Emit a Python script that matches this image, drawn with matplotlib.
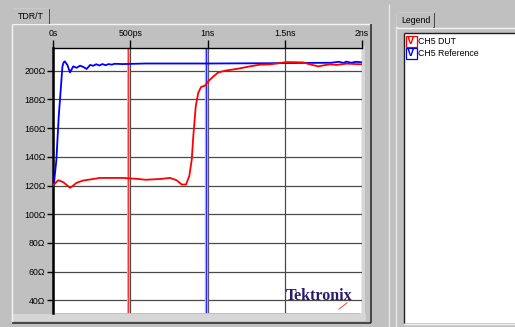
import matplotlib
matplotlib.use("Agg")
import matplotlib.pyplot as plt
from matplotlib.patches import Rectangle

# datos (tiempo en ns, impedancia en ohm)
blue_t = [0.0, 0.006, 0.011, 0.022, 0.037, 0.05, 0.061, 0.069, 0.076, 0.093, 0.11, 0.131, 0.153,
          0.175, 0.196, 0.218, 0.24, 0.26, 0.28, 0.30, 0.32, 0.34, 0.36, 0.38, 0.40, 0.45,
          0.6, 0.8, 1.0, 1.2, 1.4, 1.6, 1.8, 1.85, 1.88, 1.9, 1.93, 1.96, 2.0]
blue_z = [120, 120.7, 126.5, 138, 168, 186.8, 203, 205.8, 206.5, 204, 198.8, 203, 202,
          203.5, 202.6, 201.2, 204, 203.4, 204.5, 203.6, 204.6, 203.8, 204.6, 204.2, 204.8, 204.6,
          205, 205, 205, 205.1, 205.2, 205.4, 205.5, 206.2, 205.4, 206.3, 205.5, 206.2, 205.8]

red_t = [0.0, 0.0065, 0.034, 0.067, 0.11, 0.131, 0.153, 0.196, 0.24, 0.304, 0.45, 0.55, 0.60,
         0.70, 0.757, 0.8, 0.833, 0.861, 0.882, 0.898, 0.908, 0.924, 0.94, 0.958, 0.984,
         1.005, 1.038, 1.07, 1.124, 1.189, 1.275, 1.34, 1.405, 1.469, 1.513, 1.618, 1.663,
         1.717, 1.75, 1.793, 1.836, 1.9, 2.0]
red_z = [120, 120.7, 123.7, 122.3, 118.4, 120, 121.9, 123.5, 124.2, 125.3, 125.3, 124.6, 124.0,
         124.6, 125.3, 123.7, 120.7, 120.7, 126.5, 138, 154.3, 175.2, 184.5, 188.6, 189.6,
         192.6, 196, 198.8, 200.2, 201.2, 203, 204.2, 204.4, 205.3, 206, 205.8, 204.4,
         203, 203.7, 204.4, 204, 204.9, 204.4]

# cursores
cursor_red = 0.488
cursor_blue = 0.988

x_ticks = [0, 0.5, 1.0, 1.5, 2.0]
x_labels = ["0s", "500ps", "1ns", "1.5ns", "2ns"]
y_ticks = [40, 60, 80, 100, 120, 140, 160, 180, 200]
y_labels = [str(v) + "\u03a9" for v in y_ticks]

legend_names = ["CH5 DUT", "CH5 Reference"]
legend_colors = ["#ff0000", "#0000ff"]

plt.rcParams['font.family'] = ['Liberation Sans', 'DejaVu Sans']
gris = "#c0c0c0"
W, H = 515, 327

fig = plt.figure(figsize=(W / 100, H / 100), dpi=100, facecolor=gris)

# eje de fondo en pixeles para el marco de la ventana
bg = fig.add_axes([0, 0, 1, 1], zorder=0)
bg.set_xlim(0, W)
bg.set_ylim(H, 0)
bg.axis("off")

def linea(x1, y1, x2, y2, c, lw=1.0):
    bg.plot([x1, x2], [y1, y2], color=c, lw=lw, solid_capstyle="butt")

# panel izquierdo
bg.add_patch(Rectangle((12, 314), 354, 7, color="#d6d6d6", lw=0))
bg.add_patch(Rectangle((360, 46), 5, 270, color="#d6d6d6", lw=0))
linea(11.5, 23.5, 371, 23.5, "#f4f4f4")
linea(11.5, 23.5, 11.5, 323, "#f4f4f4")
linea(371, 23.5, 371, 323, "#303030", 1.2)
linea(11.5, 323, 371, 323, "#303030", 1.2)
# pestaña TDR/T
bg.add_patch(Rectangle((12, 8.5), 37, 15.5, color=gris, lw=0, zorder=3))
linea(12.5, 8.5, 12.5, 24, "#f4f4f4")
linea(12.5, 8.5, 48.5, 8.5, "#f4f4f4")
linea(49, 8.5, 49, 24, "#303030", 1.2)
bg.text(31, 16.5, "TDR/T", fontsize=6.3, ha="center", va="center", zorder=4)

# separador
linea(388.5, 4, 388.5, 327, "#e6e6e6")
linea(396, 26, 396, 327, "#e6e6e6")

# panel de leyenda
bg.add_patch(Rectangle((397, 13), 37, 14, color=gris, lw=0, zorder=3))
linea(396.5, 13, 396.5, 28, "#f4f4f4")
linea(396.5, 13, 433, 13, "#f4f4f4")
linea(434, 13, 434, 28, "#303030", 1.2)
linea(396.5, 27.5, 515, 27.5, "#f4f4f4")
bg.text(415.5, 20.5, "Legend", fontsize=6.3, ha="center", va="center", zorder=4)
bg.add_patch(Rectangle((403.5, 32.5), 112, 290.5, facecolor="white", edgecolor="none"))
linea(403.5, 32.5, 515, 32.5, "#202020")
linea(403.5, 32.5, 403.5, 323, "#202020")
linea(403.5, 323.5, 515, 323.5, "#f4f4f4")
for i in range(len(legend_names)):
    yc = 41 + i * 12
    bg.add_patch(Rectangle((405.5, yc - 5.5), 11, 11, facecolor="white",
                           edgecolor=legend_colors[i], lw=0.9))
    bg.text(411, yc + 0.3, "V", fontsize=8, fontweight="bold", color=legend_colors[i],
            ha="center", va="center")
    bg.text(418.5, yc, legend_names[i], fontsize=6.3, ha="left", va="center")

# grafica principal
ax = fig.add_axes([53 / W, 1 - 313 / H, (362 - 53) / W, (313 - 48) / H], zorder=2)
ax.set_facecolor("white")
ax.set_xlim(0, 2.0)
ax.set_ylim(31.2, 215.8)
ax.set_xticks(x_ticks)
ax.set_xticklabels(x_labels)
ax.set_yticks(y_ticks)
ax.set_yticklabels(y_labels)
ax.xaxis.tick_top()
ax.tick_params(axis="x", direction="out", length=6, width=1, pad=1, labelsize=6.3)
ax.tick_params(axis="y", direction="out", length=4, width=1, pad=1.5, labelsize=6.3)
ax.grid(True, color="#4a4a4a", lw=0.9)
ax.set_axisbelow(True)
for s in ["right", "bottom"]:
    ax.spines[s].set_visible(False)
ax.spines["left"].set_linewidth(1.8)
ax.spines["top"].set_linewidth(1.0)

# cursores
ax.axvline(cursor_red, color="#ff9a9a", lw=2.2, zorder=1.5)
ax.axvline(cursor_red, color="#ff3030", lw=0.7, zorder=1.6)
ax.axvline(cursor_blue, color="#a8a8ff", lw=2.4, zorder=1.5)
ax.axvline(cursor_blue, color="#2020ff", lw=0.7, zorder=1.6)

ax.plot(blue_t, blue_z, color="#0000ff", lw=1.3, zorder=3)
ax.plot(red_t, red_z, color="#ff0000", lw=1.3, zorder=4)

# logo
fig.text(319 / W, 1 - 296.5 / H, "Tektronix", fontsize=11.5, fontweight="bold",
         family="Liberation Serif", color="#2b1a6e", ha="center", va="center", zorder=10)
fig.add_artist(plt.Line2D([339 / W, 347 / W], [1 - 309 / H, 1 - 303 / H],
                          color="#ff5050", lw=0.8, zorder=11))

fig.savefig("out.png", dpi=100, facecolor=gris)
